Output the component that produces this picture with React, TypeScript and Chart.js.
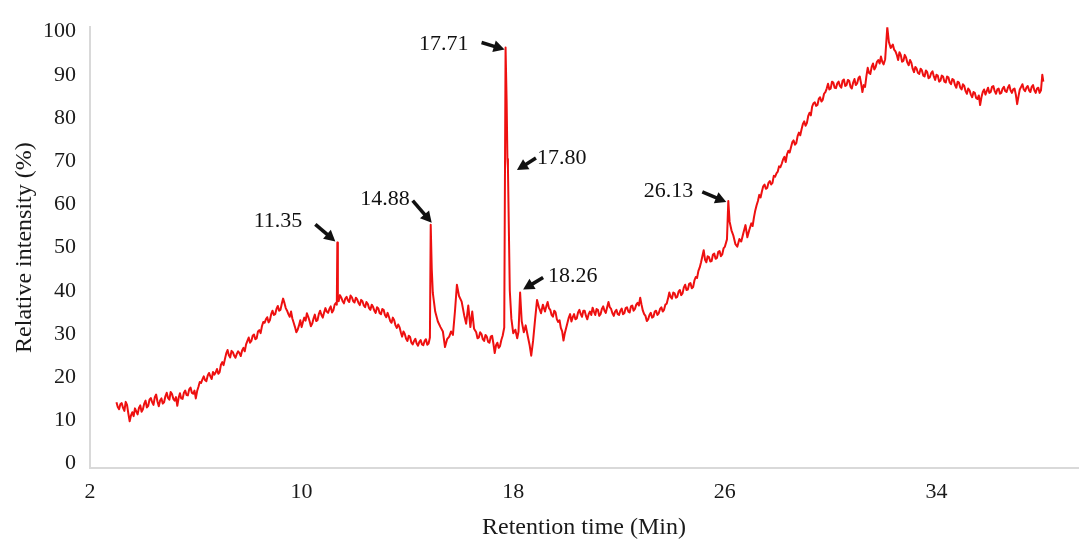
import React, { useEffect, useRef } from "react";
import { Chart, registerables } from "chart.js";

Chart.register(...registerables);

// ---------- data ----------
const retentionTime = [
  3.0, 3.05, 3.1, 3.15, 3.2, 3.25, 3.3, 3.35, 3.4, 3.45, 3.5, 3.55, 3.6, 3.65, 3.7, 3.75, 3.8, 3.85, 3.9, 3.95,
  4.0, 4.05, 4.1, 4.15, 4.2, 4.25, 4.3, 4.35, 4.4, 4.45, 4.5, 4.55, 4.6, 4.65, 4.7, 4.75, 4.8, 4.85, 4.9, 4.95,
  5.0, 5.05, 5.1, 5.15, 5.2, 5.25, 5.3, 5.35, 5.4, 5.45, 5.5, 5.55, 5.6, 5.65, 5.7, 5.75, 5.8, 5.85, 5.9, 5.95,
  6.0, 6.05, 6.1, 6.15, 6.2, 6.25, 6.3, 6.35, 6.4, 6.45, 6.5, 6.55, 6.6, 6.65, 6.7, 6.75, 6.8, 6.85, 6.9, 6.95,
  7.0, 7.05, 7.1, 7.15, 7.2, 7.25, 7.3, 7.35, 7.4, 7.45, 7.5, 7.55, 7.6, 7.65, 7.7, 7.75, 7.8, 7.85, 7.9, 7.95,
  8.0, 8.05, 8.1, 8.15, 8.2, 8.25, 8.3, 8.35, 8.4, 8.45, 8.5, 8.55, 8.6, 8.65, 8.7, 8.75, 8.8, 8.85, 8.9, 8.95,
  9.0, 9.05, 9.1, 9.15, 9.2, 9.25, 9.3, 9.35, 9.4, 9.45, 9.5, 9.55, 9.6, 9.65, 9.7, 9.75, 9.8, 9.85, 9.9, 9.95,
  10.0, 10.05, 10.1, 10.15, 10.2, 10.25, 10.3, 10.35, 10.4, 10.45, 10.5, 10.55, 10.6, 10.65, 10.7, 10.75, 10.8, 10.85, 10.9, 10.95,
  11.0, 11.05, 11.1, 11.15, 11.2, 11.25, 11.3, 11.33, 11.35, 11.37, 11.4, 11.45, 11.5, 11.55, 11.6, 11.65, 11.7, 11.75, 11.8, 11.85,
  11.9, 11.95, 12.0, 12.05, 12.1, 12.15, 12.2, 12.25, 12.3, 12.35, 12.4, 12.45, 12.5, 12.55, 12.6, 12.65, 12.7, 12.75, 12.8, 12.85,
  12.9, 12.95, 13.0, 13.05, 13.1, 13.15, 13.2, 13.25, 13.3, 13.35, 13.4, 13.45, 13.5, 13.55, 13.6, 13.65, 13.7, 13.75, 13.8, 13.85,
  13.9, 13.95, 14.0, 14.05, 14.1, 14.15, 14.2, 14.25, 14.3, 14.35, 14.4, 14.45, 14.5, 14.55, 14.6, 14.65, 14.7, 14.75, 14.8, 14.85,
  14.88, 14.92, 14.96, 15.05, 15.15, 15.25, 15.34, 15.42, 15.5, 15.58,
  15.65, 15.72, 15.8, 15.87, 15.95, 16.05, 16.15, 16.22, 16.3, 16.38,
  16.45, 16.52, 16.6, 16.65, 16.7, 16.75, 16.8, 16.85, 16.9, 16.95,
  17.0, 17.05, 17.1, 17.15, 17.2, 17.25, 17.3, 17.35, 17.4, 17.45,
  17.5, 17.55, 17.6, 17.66, 17.71, 17.75, 17.78, 17.8, 17.83, 17.87,
  17.93, 18.0, 18.08, 18.15, 18.2, 18.26, 18.32, 18.4, 18.47, 18.55,
  18.62, 18.68, 18.75, 18.82, 18.9, 18.97, 19.05, 19.12, 19.2, 19.25,
  19.3, 19.35, 19.4, 19.45, 19.5, 19.55, 19.6, 19.65, 19.7, 19.75, 19.8, 19.85, 19.9, 19.95, 20.0, 20.05, 20.1, 20.15, 20.2, 20.25,
  20.3, 20.35, 20.4, 20.45, 20.5, 20.55, 20.6, 20.65, 20.7, 20.75, 20.8, 20.85, 20.9, 20.95, 21.0, 21.05, 21.1, 21.15, 21.2, 21.25,
  21.3, 21.35, 21.4, 21.45, 21.5, 21.55, 21.6, 21.65, 21.7, 21.75, 21.8, 21.85, 21.9, 21.95, 22.0, 22.05, 22.1, 22.15, 22.2, 22.25,
  22.3, 22.35, 22.4, 22.45, 22.5, 22.55, 22.6, 22.65, 22.7, 22.75, 22.8, 22.85, 22.9, 22.95, 23.0, 23.05, 23.1, 23.15, 23.2, 23.25,
  23.3, 23.35, 23.4, 23.45, 23.5, 23.55, 23.6, 23.65, 23.7, 23.75, 23.8, 23.85, 23.9, 23.95, 24.0, 24.05, 24.1, 24.15, 24.2, 24.25,
  24.3, 24.35, 24.4, 24.45, 24.5, 24.55, 24.6, 24.65, 24.7, 24.75, 24.8, 24.85, 24.9, 24.95, 25.0, 25.05, 25.1, 25.15, 25.2, 25.25,
  25.3, 25.35, 25.4, 25.45, 25.5, 25.55, 25.6, 25.65, 25.7, 25.75, 25.8, 25.85, 25.9, 25.95, 26.0, 26.08, 26.13, 26.18, 26.25, 26.32,
  26.4, 26.47, 26.55, 26.62, 26.7, 26.78, 26.85, 26.92, 27.0, 27.05, 27.1, 27.15, 27.2, 27.25, 27.3, 27.35, 27.4, 27.45, 27.5, 27.55,
  27.6, 27.65, 27.7, 27.75, 27.8, 27.85, 27.9, 27.95, 28.0, 28.05, 28.1, 28.15, 28.2, 28.25, 28.3, 28.35, 28.4, 28.45, 28.5, 28.55,
  28.6, 28.65, 28.7, 28.75, 28.8, 28.85, 28.9, 28.95, 29.0, 29.05, 29.1, 29.15, 29.2, 29.25, 29.3, 29.35, 29.4, 29.45, 29.5, 29.55,
  29.6, 29.65, 29.7, 29.75, 29.8, 29.85, 29.9, 29.95, 30.0, 30.05, 30.1, 30.15, 30.2, 30.25, 30.3, 30.35, 30.4, 30.45, 30.5, 30.55,
  30.6, 30.65, 30.7, 30.75, 30.8, 30.85, 30.9, 30.95, 31.0, 31.05, 31.1, 31.15, 31.2, 31.25, 31.3, 31.35, 31.4, 31.45, 31.5, 31.55,
  31.6, 31.65, 31.7, 31.75, 31.8, 31.85, 31.9, 31.95, 32.0, 32.06, 32.14, 32.2, 32.27, 32.35, 32.4, 32.45, 32.5, 32.55, 32.6, 32.65,
  32.7, 32.75, 32.8, 32.85, 32.9, 32.95, 33.0, 33.05, 33.1, 33.15, 33.2, 33.25, 33.3, 33.35, 33.4, 33.45, 33.5, 33.55, 33.6, 33.65,
  33.7, 33.75, 33.8, 33.85, 33.9, 33.95, 34.0, 34.05, 34.1, 34.15, 34.2, 34.25, 34.3, 34.35, 34.4, 34.45, 34.5, 34.55, 34.6, 34.65,
  34.7, 34.75, 34.8, 34.85, 34.9, 34.95, 35.0, 35.05, 35.1, 35.15, 35.2, 35.25, 35.3, 35.35, 35.4, 35.45, 35.5, 35.55, 35.6, 35.65,
  35.7, 35.75, 35.8, 35.85, 35.9, 35.95, 36.0, 36.05, 36.1, 36.15, 36.2, 36.25, 36.3, 36.35, 36.4, 36.45, 36.5, 36.55, 36.6, 36.65,
  36.7, 36.75, 36.8, 36.85, 36.9, 36.95, 37.0, 37.05, 37.1, 37.15, 37.2, 37.25, 37.3, 37.35, 37.4, 37.45, 37.5, 37.55, 37.6, 37.65,
  37.7, 37.75, 37.8, 37.85, 37.9, 37.95, 38.0, 38.04,
];

const relativeIntensity = [
  14.2, 13.1, 12.6, 13.8, 14.0, 12.9, 12.2, 14.3, 13.6, 11.6, 9.8, 11.2, 11.9, 11.0, 12.8, 12.1, 11.4, 12.9, 13.5, 12.0,
  12.6, 13.9, 14.6, 13.0, 13.4, 14.8, 15.2, 14.2, 13.6, 15.4, 16.0, 14.4, 13.3, 14.6, 15.1, 13.9, 14.2, 15.6, 16.4, 15.2,
  14.8, 16.6, 16.1, 15.0, 14.6, 15.4, 13.4, 15.2, 16.3, 15.1, 15.0, 16.4, 16.9, 15.9, 15.8, 17.2, 17.6, 16.4, 16.2, 16.9,
  15.1, 16.8, 17.8, 18.9, 18.7, 19.5, 20.2, 19.3, 19.1, 20.4, 21.0, 20.2, 19.6, 21.2, 20.6, 21.1, 21.9, 20.8, 21.2, 22.9,
  23.5, 22.8, 24.2, 25.5, 26.3, 25.1, 24.6, 26.1, 25.8, 25.0, 24.5, 25.4, 26.0, 25.6, 24.9, 26.2, 26.8, 26.0, 27.6, 28.4,
  29.2, 28.0, 28.4, 29.6, 29.9, 28.8, 29.0, 30.6, 30.9, 30.2, 31.8, 32.8, 32.6, 33.4, 33.9, 32.7, 33.2, 34.6, 35.4, 34.4,
  34.6, 35.8, 36.5, 35.4, 35.6, 37.0, 38.2, 37.2, 36.0, 35.4, 34.6, 34.0, 35.2, 33.6, 32.6, 31.6, 30.4, 31.0, 32.0, 33.2,
  31.6, 32.8, 33.8, 33.1, 34.8, 34.0, 33.0, 31.8, 32.4, 33.6, 34.5, 33.0, 33.2, 34.6, 35.4, 34.4, 33.8, 35.0, 36.0, 35.2,
  34.9, 35.8, 36.4, 35.0, 35.5, 36.8, 37.2, 36.8, 51.2, 38.8, 37.6, 39.0, 38.4, 37.6, 37.1, 38.2, 38.6, 37.8, 37.4, 38.9,
  38.5, 37.6, 37.3, 38.4, 38.0, 37.2, 36.7, 37.9, 37.6, 36.6, 36.2, 37.4, 37.0, 36.0, 35.6, 36.8, 36.3, 35.4, 34.9, 36.2,
  35.9, 34.8, 34.6, 35.8, 35.6, 34.4, 33.9, 34.9, 34.0, 33.0, 32.6, 33.8, 33.2, 32.0, 31.4, 32.2, 31.6, 30.4, 29.4, 30.6,
  30.0, 28.9, 28.4, 29.6, 29.3, 28.0, 27.6, 28.4, 28.9, 27.8, 27.3, 28.2, 28.6, 27.6, 27.4, 28.4, 28.8, 27.5, 27.8, 29.2,
  55.3, 45.0, 39.5, 35.2, 32.9, 31.6, 30.6, 27.0, 28.8, 29.4,
  30.6, 29.8, 35.5, 41.4, 38.8, 37.5, 34.2, 32.4, 36.6, 31.6,
  35.2, 31.2, 30.4, 29.0, 29.2, 30.4, 30.0, 28.8, 28.4, 29.8,
  29.4, 28.2, 28.0, 29.4, 29.6, 27.8, 25.6, 27.4, 28.0, 26.8,
  27.2, 28.6, 29.6, 31.5, 96.3, 84.0, 70.5, 68.4, 56.0, 40.0,
  33.5, 30.2, 31.0, 29.0, 30.6, 39.6, 33.0, 30.4, 32.0, 29.5,
  27.4, 25.0, 28.4, 33.0, 37.9, 36.2, 34.8, 36.8, 35.2, 36.4,
  37.4, 36.0, 35.6, 34.4, 34.0, 35.4, 35.0, 33.4, 32.8, 33.2, 31.4, 30.6, 28.5, 30.2, 31.4, 32.6, 33.8, 34.6, 32.9, 33.9,
  34.6, 33.4, 33.6, 35.0, 35.6, 34.6, 34.0, 35.4, 35.4, 34.2, 33.4, 34.6, 35.2, 34.4, 36.1, 35.2, 34.4, 35.8, 35.6, 34.2,
  34.6, 35.8, 36.4, 35.4, 34.9, 36.2, 37.4, 36.2, 35.8, 34.8, 34.2, 35.2, 35.6, 34.6, 34.4, 35.4, 35.9, 34.6, 34.8, 36.0,
  36.2, 35.2, 35.0, 36.4, 36.6, 35.4, 35.8, 36.8, 37.2, 36.6, 38.4, 36.8, 35.4, 34.6, 34.2, 33.0, 33.4, 34.4, 34.9, 33.8,
  34.0, 35.2, 35.4, 34.4, 34.8, 35.8, 36.2, 35.2, 35.6, 36.8, 37.0, 38.2, 39.6, 38.6, 38.2, 39.6, 39.4, 38.4, 38.6, 39.8,
  40.2, 39.0, 39.4, 40.8, 41.4, 40.2, 40.3, 41.6, 41.8, 40.6, 40.9, 42.4, 43.2, 43.0, 44.6, 45.4, 46.6, 48.0, 49.4, 47.2,
  46.6, 48.0, 47.8, 46.8, 46.9, 48.4, 48.6, 47.4, 47.6, 49.0, 49.2, 48.0, 48.4, 49.8, 50.2, 51.9, 60.8, 56.0, 54.0, 52.8,
  50.8, 50.2, 52.0, 51.4, 53.4, 55.2, 52.4, 54.0, 55.6, 55.0, 57.0, 58.6, 59.8, 60.8, 62.2, 61.6, 63.0, 64.2, 64.6, 63.6,
  63.8, 65.0, 65.4, 64.6, 65.0, 66.6, 66.4, 67.2, 67.6, 68.8, 68.6, 69.4, 70.4, 71.0, 69.8, 71.6, 72.4, 72.0, 73.2, 74.4,
  74.8, 73.8, 74.2, 75.8, 76.6, 76.0, 77.4, 78.6, 79.2, 78.2, 78.8, 80.4, 81.2, 80.6, 82.6, 83.4, 83.6, 82.8, 83.0, 84.4,
  84.8, 83.8, 84.2, 85.6, 86.0, 86.8, 87.9, 86.6, 86.8, 88.4, 88.2, 87.0, 86.9, 88.0, 88.4, 87.4, 87.0, 88.6, 88.9, 87.4,
  87.6, 88.8, 88.6, 87.2, 86.8, 88.2, 89.0, 87.6, 88.0, 89.2, 89.6, 88.0, 86.0, 87.6, 87.2, 89.6, 91.6, 90.4, 90.2, 91.8,
  92.6, 91.2, 91.8, 93.0, 93.4, 92.6, 94.2, 93.0, 92.4, 93.6, 101.0, 97.6, 96.2, 97.0, 95.8, 95.4, 94.6, 93.4, 95.2, 94.6,
  93.0, 93.2, 94.6, 94.0, 92.8, 92.2, 93.4, 92.8, 91.4, 90.6, 91.8, 91.4, 90.4, 90.2, 91.4, 91.0, 89.8, 89.6, 91.0, 90.6,
  89.2, 89.4, 90.4, 90.8, 89.6, 88.8, 90.0, 89.8, 88.4, 88.6, 89.8, 89.6, 88.4, 88.2, 89.6, 89.4, 88.2, 87.8, 89.0, 88.8,
  87.6, 87.0, 88.4, 88.2, 87.0, 86.6, 87.8, 87.4, 86.2, 85.6, 86.8, 86.4, 85.4, 84.8, 86.0, 85.8, 84.6, 84.4, 85.2, 83.0,
  84.8, 86.0, 86.6, 85.4, 86.2, 87.0, 85.8, 86.0, 87.2, 87.4, 86.2, 85.6, 86.6, 86.8, 85.6, 85.8, 86.8, 87.2, 86.2, 86.0,
  87.0, 87.6, 86.4, 85.8, 86.6, 86.8, 85.4, 83.2, 85.0, 86.6, 87.2, 87.8, 86.6, 86.2, 87.0, 87.4, 86.4, 86.0, 87.2, 87.6,
  86.4, 85.8, 86.8, 87.0, 85.8, 86.4, 90.0, 88.4,
];

const xTickValues = [2, 10, 18, 26, 34];
const yTickValues = [0, 10, 20, 30, 40, 50, 60, 70, 80, 90, 100];

const peakTimes = [11.35, 14.88, 17.71, 17.8, 18.26, 26.13];
const peakValues = [51.2, 55.3, 96.3, 68.4, 39.6, 60.8];
const peakLabels = ["11.35", "14.88", "17.71", "17.80", "18.26", "26.13"];

// ---------- presentation ----------
const FONT = "'Liberation Serif', 'Times New Roman', serif";
const TEXT = "#1a1a1a";

// callout geometry, pixel offsets relative to each peak point
const calloutGeometry = [
  { tail: [-22, -18], tip: [-2, -1], text: [-35, -21], align: "right" },
  { tail: [-18, -24], tip: [1, -2], text: [-21, -25], align: "right" },
  { tail: [-24, -5], tip: [-1, 2], text: [-37, -3], align: "right" },
  { tail: [28, -10], tip: [9, 2], text: [29, -10], align: "left" },
  { tail: [23, -15], tip: [3, -3], text: [28, -16], align: "left" },
  { tail: [-26, -9], tip: [-2, 1], text: [-35, -10], align: "right" },
];

const calloutPlugin = {
  id: "peakCallouts",
  afterDatasetsDraw(chart: any) {
    const { ctx, scales } = chart;
    const xs = scales.x;
    const ys = scales.y;
    ctx.save();
    ctx.font = `22px ${FONT}`;
    ctx.fillStyle = "#111";
    ctx.strokeStyle = "#111";
    ctx.textBaseline = "middle";
    peakTimes.forEach((t, i) => {
      const px = xs.getPixelForValue(t);
      const py = ys.getPixelForValue(peakValues[i]);
      const g = calloutGeometry[i];
      const tx = px + g.tail[0];
      const ty = py + g.tail[1];
      const hx = px + g.tip[0];
      const hy = py + g.tip[1];
      const ang = Math.atan2(hy - ty, hx - tx);
      const headLen = 11;
      const headW = 6;
      const bx = hx - headLen * Math.cos(ang);
      const by = hy - headLen * Math.sin(ang);
      ctx.lineWidth = 3.6;
      ctx.lineCap = "butt";
      ctx.beginPath();
      ctx.moveTo(tx, ty);
      ctx.lineTo(bx + Math.cos(ang), by + Math.sin(ang));
      ctx.stroke();
      ctx.beginPath();
      ctx.moveTo(hx, hy);
      ctx.lineTo(bx + headW * Math.sin(ang), by - headW * Math.cos(ang));
      ctx.lineTo(bx - headW * Math.sin(ang), by + headW * Math.cos(ang));
      ctx.closePath();
      ctx.fill();
      ctx.textAlign = g.align;
      ctx.fillText(peakLabels[i], px + g.text[0], py + g.text[1]);
    });
    ctx.restore();
  },
};

export default function App() {
  const canvasRef = useRef<HTMLCanvasElement | null>(null);

  useEffect(() => {
    if (!canvasRef.current) return;
    const n = Math.min(retentionTime.length, relativeIntensity.length);
    const points = retentionTime.slice(0, n).map((t, i) => ({ x: t, y: relativeIntensity[i] }));
    const chart = new Chart(canvasRef.current, {
      type: "line",
      data: {
        datasets: [
          {
            data: points,
            borderColor: "#ee1010",
            borderWidth: 2,
            borderJoinStyle: "round",
            pointRadius: 0,
            tension: 0,
            fill: false,
          },
        ],
      },
      options: {
        animation: false,
        responsive: false,
        devicePixelRatio: 1,
        layout: { padding: { left: 0, right: 6, top: 22, bottom: 0 } },
        plugins: {
          legend: { display: false },
          tooltip: { enabled: false },
        },
        scales: {
          x: {
            type: "linear",
            min: 2,
            max: 39.35,
            afterBuildTicks: (scale: any) => {
              scale.ticks = xTickValues.map((v) => ({ value: v }));
            },
            afterFit: (scale: any) => {
              scale.height = 72;
            },
            grid: { display: false, drawTicks: false },
            border: { display: true, color: "#d9d9d9", width: 2 },
            ticks: {
              color: TEXT,
              padding: 11,
              autoSkip: false,
              maxRotation: 0,
              font: { family: FONT, size: 22 },
              callback: (v: any) => String(v),
            },
            title: {
              display: true,
              text: "Retention time (Min)",
              color: TEXT,
              font: { family: FONT, size: 24, lineHeight: 1 },
              padding: { top: 0, bottom: 0 },
            },
          },
          y: {
            type: "linear",
            min: -1,
            max: 101,
            afterBuildTicks: (scale: any) => {
              scale.ticks = yTickValues.map((v) => ({ value: v }));
            },
            afterFit: (scale: any) => {
              scale.width = 90;
            },
            grid: { display: false, drawTicks: false },
            border: { display: true, color: "#d9d9d9", width: 2 },
            ticks: {
              color: TEXT,
              padding: 14,
              autoSkip: false,
              font: { family: FONT, size: 22 },
              callback: (v: any) => String(v),
            },
            title: {
              display: true,
              text: "Relative intensity (%)",
              color: TEXT,
              font: { family: FONT, size: 24, lineHeight: 1 },
              padding: { top: 13, bottom: 0 },
            },
          },
        },
      },
      plugins: [calloutPlugin],
    });
    return () => chart.destroy();
  }, []);

  return (
    <div
      style={{
        position: "fixed",
        left: 0,
        top: 0,
        width: 1084,
        height: 540,
        background: "#ffffff",
      }}
    >
      <canvas ref={canvasRef} width={1084} height={540} style={{ display: "block" }} />
    </div>
  );
}
